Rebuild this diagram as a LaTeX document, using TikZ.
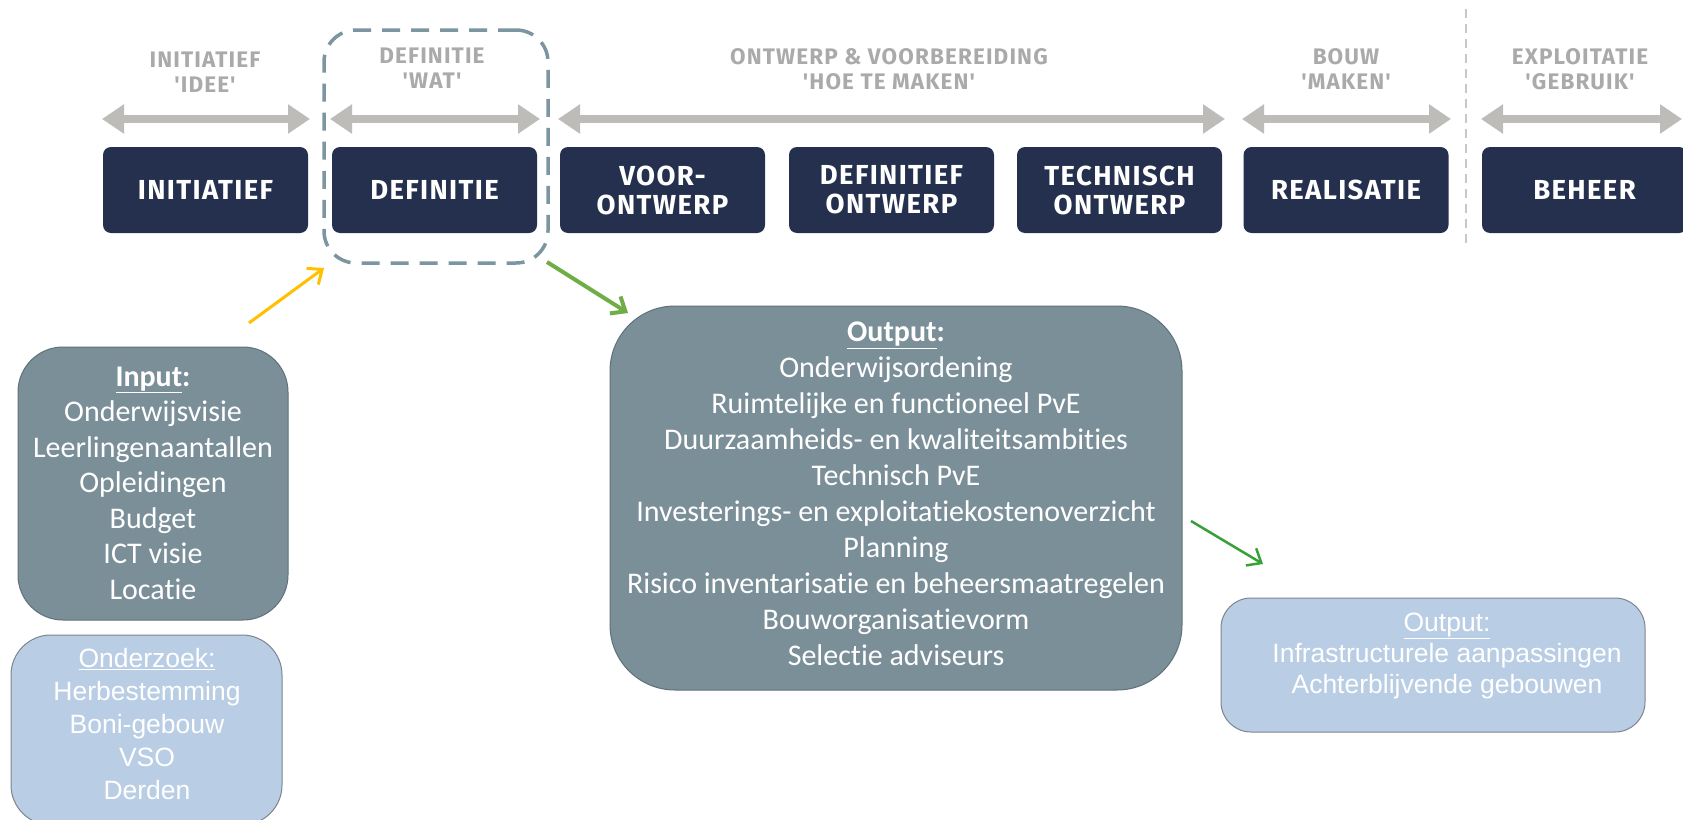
\documentclass[tikz,border=0pt]{standalone}
\usepackage{fontspec}
\setmainfont{Carlito}[Ligatures=NoCommon]
\newfontfamily\dinfont{Fira Sans}[LetterSpace=5]
\newfontfamily\arialfont{Liberation Sans}
\usetikzlibrary{arrows.meta}
\definecolor{navy}{RGB}{36,48,77}
\definecolor{arrgray}{RGB}{190,188,185}
\definecolor{labgray}{RGB}{170,170,170}
\definecolor{dashcol}{RGB}{123,149,161}
\definecolor{slate}{RGB}{123,143,153}
\definecolor{slateborder}{RGB}{95,113,123}
\definecolor{lightblue}{RGB}{185,205,229}
\definecolor{lbborder}{RGB}{125,133,143}
\definecolor{vlgray}{RGB}{200,200,200}
\definecolor{yarrow}{RGB}{255,192,0}
\definecolor{garrow}{RGB}{112,173,71}
\definecolor{garrowdark}{RGB}{55,160,55}
\begin{document}
\begin{tikzpicture}[x=1pt,y=-1pt,
  phase/.style={fill=navy, rounded corners=8pt, minimum width=205pt, minimum height=86pt,
    text=white, font=\dinfont\bfseries\fontsize{27.5}{29}\selectfont, align=center, inner sep=0pt},
  phlabel/.style={text=labgray, font=\dinfont\bfseries\fontsize{22.5}{25}\selectfont, align=center, inner sep=0pt},
  spanarrow/.style={draw=arrgray, line width=7.5pt,
    {Triangle[length=22pt,width=28pt]}-{Triangle[length=22pt,width=28pt]}},
  slatebox/.style={fill=slate, draw=slateborder, line width=1pt},
  bluebox/.style={fill=lightblue, draw=lbborder, line width=1pt},
  calib/.style={text=white, font=\fontsize{30}{36}\selectfont, align=center, inner sep=0pt},
  arial/.style={text=white, font=\arialfont\fontsize{26.5}{33}\selectfont, align=center, inner sep=0pt},
  barb/.style={-{Straight Barb[length=12pt,width=20pt]}}
]
\useasboundingbox (0,0) rectangle (1683,819);
\fill[white] (0,0) rectangle (1683,819);

% phase labels
\node[phlabel] (l1) at (205,72.5) {INITIATIEF\\'IDEE'};
\node[phlabel] (l2) at (432,68.5) {DEFINITIE\\'WAT'};
\node[phlabel] (l3) at (889,69.5) {ONTWERP \& VOORBEREIDING\\'HOE TE MAKEN'};
\node[phlabel] (l4) at (1346,69.5) {BOUW\\'MAKEN'};
\node[phlabel] (l5) at (1580,69.5) {EXPLOITATIE\\'GEBRUIK'};

% span arrows
\coordinate (a1l) at (102,119); \coordinate (a1r) at (310,119);
\coordinate (a2l) at (330,119); \coordinate (a2r) at (540,119);
\coordinate (a3l) at (558,119); \coordinate (a3r) at (1225,119);
\coordinate (a4l) at (1242,119); \coordinate (a4r) at (1451,119);
\coordinate (a5l) at (1481,119); \coordinate (a5r) at (1682,119);
\draw[spanarrow] (a1l) -- (a1r);
\draw[spanarrow] (a2l) -- (a2r);
\draw[spanarrow] (a3l) -- (a3r);
\draw[spanarrow] (a4l) -- (a4r);
\draw[spanarrow] (a5l) -- (a5r);

% separator
\coordinate (va) at (1466,9); \coordinate (vb) at (1466,249);
\draw[vlgray, line width=2.5pt, dash pattern=on 9pt off 6pt] (va) -- (vb);

% phase boxes
\node[phase] (init) at (205.5,190) {INITIATIEF};
\node[phase] (defi) at (434.5,190) {DEFINITIE};
\node[phase] (voor) at (662.5,190) {VOOR-\\ONTWERP};
\node[phase] (defo) at (891.5,190) {DEFINITIEF\\ONTWERP};
\node[phase] (tech) at (1119.5,190) {TECHNISCH\\ONTWERP};
\node[phase] (real) at (1346,190) {REALISATIE};
\node[phase] (beh) at (1584.5,190) {BEHEER};

% focus dashed frame
\node[draw=dashcol, dash pattern=on 18pt off 11pt, line width=3.5pt, rounded corners=32pt,
  minimum width=224pt, minimum height=233pt, inner sep=0pt] (focus) at (436,146.5) {};

% input box
\node[slatebox, rounded corners=45pt, minimum width=270pt, minimum height=273pt] (inbox) at (153,483.5) {};
\node[calib, font=\fontsize{30}{35.5}\selectfont] (intext) at (153,483) {\underline{\textbf{Input}}\textbf{:}\\Onderwijsvisie\\Leerlingenaantallen\\Opleidingen\\Budget\\ICT visie\\Locatie};

% onderzoek box
\node[bluebox, rounded corners=40pt, minimum width=271pt, minimum height=190pt] (ozbox) at (146.5,730) {};
\node[arial] (oztext) at (147,724) {\underline{Onderzoek:}\\Herbestemming\\Boni-gebouw\\VSO\\Derden};

% main output box
\node[slatebox, rounded corners=65pt, minimum width=572pt, minimum height=384pt] (outbox) at (896,498) {};
\node[calib] (outtext) at (896,494) {\underline{\textbf{Output}}\textbf{:}\\Onderwijsordening\\Ruimtelijke en functioneel PvE\\Duurzaamheids- en kwaliteitsambities\\Technisch PvE\\Investerings- en exploitatiekostenoverzicht\\Planning\\Risico inventarisatie en beheersmaatregelen\\Bouworganisatievorm\\Selectie adviseurs};

% right output box
\node[bluebox, rounded corners=30pt, minimum width=424pt, minimum height=134pt] (out2box) at (1433,665) {};
\node[arial, font=\arialfont\fontsize{26.5}{31}\selectfont] (out2text) at (1447,656) {\underline{Output:}\\Infrastructurele aanpassingen\\Achterblijvende gebouwen};

% arrows
\coordinate (ya) at (249,323); \coordinate (yb) at (324,268);
\draw[barb, yarrow, line width=3pt] (ya) -- (yb);
\coordinate (ga) at (547,262); \coordinate (gb) at (628,313);
\draw[barb, garrow, line width=4pt] (ga) -- (gb);
\coordinate (gc) at (1191,521); \coordinate (gd) at (1263,564);
\draw[barb, garrowdark, line width=2.5pt] (gc) -- (gd);
\end{tikzpicture}
\end{document}
